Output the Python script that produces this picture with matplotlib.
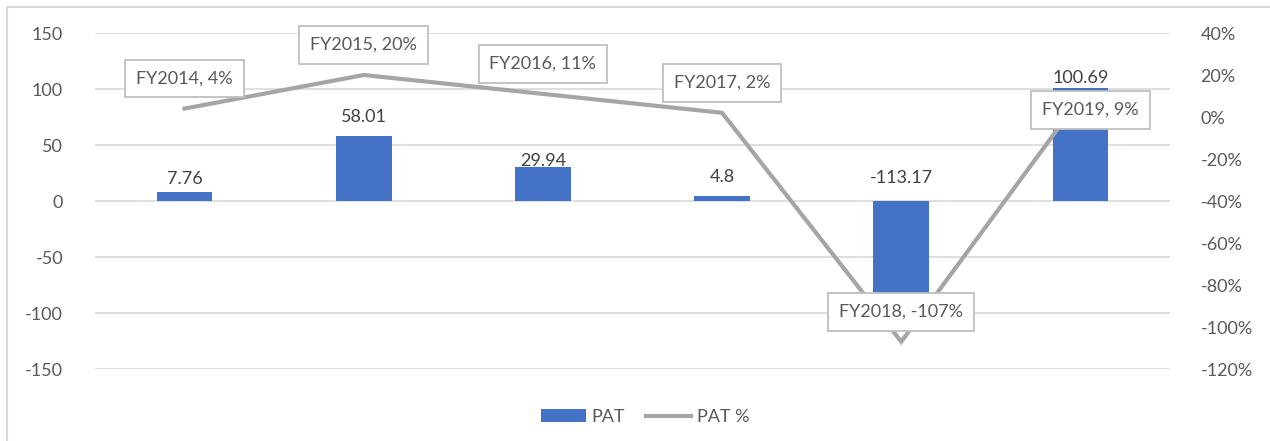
import matplotlib
matplotlib.use("Agg")
import matplotlib.pyplot as plt
from matplotlib.patches import Rectangle
from matplotlib.lines import Line2D
from matplotlib.patches import Patch

plt.rcParams['font.family'] = ['Lato', 'DejaVu Sans']
plt.rcParams['axes.unicode_minus'] = False

years = ["FY2014", "FY2015", "FY2016", "FY2017", "FY2018", "FY2019"]
pat = [7.76, 58.01, 29.94, 4.8, -113.17, 100.69]
pat_pct = [0.04, 0.20, 0.11, 0.02, -1.07, 0.09]
left_ticks = [-150, -100, -50, 0, 50, 100, 150]
right_ticks = [-1.2, -1.0, -0.8, -0.6, -0.4, -0.2, 0.0, 0.2, 0.4]

# label placement, in pixels (Excel moved a few of them by hand)
bar_label_dy = [13, 19, 6, 19, 23, 10]
line_label_off = [(0, 30), (0, 30), (0, 30), (0, 30), (0, 30), (10, -12)]

bar_color = "#4472C4"
line_color = "#A5A5A5"
text_color = "#595959"
grid_color = "#D9D9D9"

fig = plt.figure(figsize=(12.7, 4.41), dpi=100)
fig.patches.append(Rectangle((7 / 1270, -0.05), 1.1, 1 - 7 / 441 + 0.05,
                             transform=fig.transFigure, fill=False,
                             edgecolor=grid_color, linewidth=1.5))

ax = fig.add_axes([95 / 1270, 1 - 369 / 441, 1075 / 1270, 336 / 441])
x = list(range(len(years)))

ax.bar(x, pat, width=0.31, color=bar_color, zorder=2)
ax.set_xlim(-0.5, len(years) - 0.5)
ax.set_ylim(-150, 150)
ax.set_yticks(left_ticks)
ax.set_yticklabels([str(t) for t in left_ticks])
ax.set_xticks([])
ax.grid(axis="y", color=grid_color, linewidth=1.2, zorder=0)
ax.set_axisbelow(True)
for s in ax.spines.values():
    s.set_visible(False)
ax.tick_params(axis="y", length=0, pad=23, labelsize=13, labelcolor=text_color)

for i, v in enumerate(pat):
    ax.annotate(f"{v:g}", (i, max(v, 0)), xytext=(0, bar_label_dy[i]),
                textcoords="offset pixels", ha="center", va="center",
                fontsize=13, color="#404040")

ax2 = ax.twinx()
ax2.plot(x, pat_pct, color=line_color, linewidth=3, solid_joinstyle="miter", zorder=3)
ax2.set_ylim(-1.2, 0.4)
ax2.set_yticks(right_ticks)
ax2.set_yticklabels([f"{round(t * 100)}%" for t in right_ticks])
for s in ax2.spines.values():
    s.set_visible(False)
ax2.tick_params(axis="y", length=0, pad=22, labelsize=13, labelcolor=text_color)

for i, v in enumerate(pat_pct):
    ax2.annotate(f"{years[i]}, {round(v * 100)}%", (i, v), xytext=line_label_off[i],
                 textcoords="offset pixels", ha="center", va="center",
                 fontsize=13, color=text_color, zorder=5,
                 bbox=dict(boxstyle="square,pad=0.6", fc="white", ec="#BFBFBF", lw=1.3))

handles = [Patch(facecolor=bar_color, label="PAT"),
           Line2D([0], [0], color=line_color, linewidth=3, label="PAT %")]
fig.legend(handles=handles, loc="center", bbox_to_anchor=(645 / 1270, 1 - 417 / 441),
           ncol=2, frameon=False, fontsize=13, handlelength=2.5,
           columnspacing=1.2, handletextpad=0.3, labelcolor=text_color)

fig.savefig("out.png", dpi=100)
